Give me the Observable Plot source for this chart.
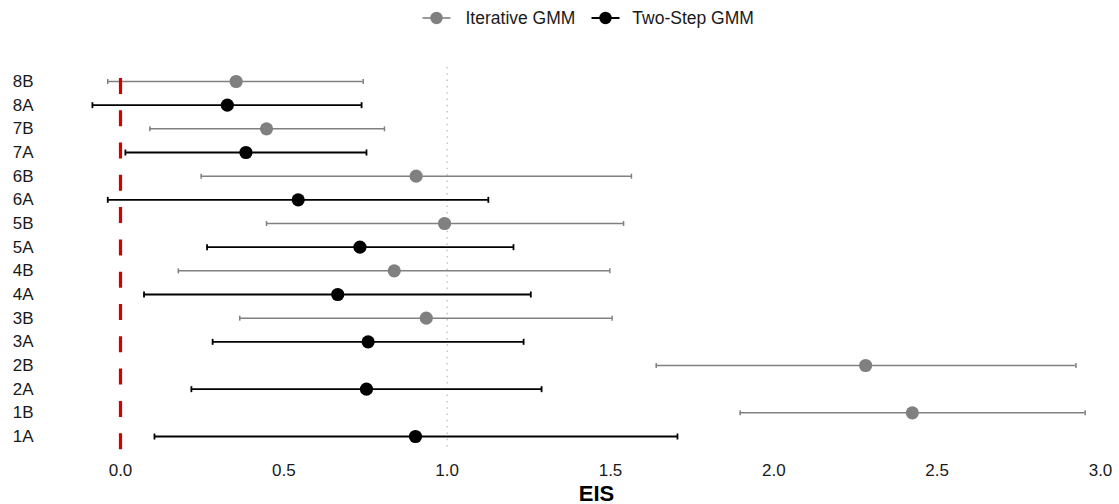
<!DOCTYPE html>
<html>
<head>
<meta charset="utf-8">
<script src="https://cdn.jsdelivr.net/npm/d3@7"></script>
<script src="https://cdn.jsdelivr.net/npm/@observablehq/plot@0.6"></script>
<style>
  html, body { margin: 0; padding: 0; background: #fff; }
  body { width: 1119px; height: 504px; overflow: hidden; font-family: "Liberation Sans", Arial, sans-serif; }
  #legend { position: relative; width: 1119px; height: 36px; }
  #legend .sw { position: absolute; top: 11px; }
  #legend .lab { position: absolute; top: 8px; font-size: 17.5px; color: #1a1a1a; line-height: 20px; white-space: nowrap; }
  #chart svg { display: block; }
</style>
</head>
<body>
<div id="legend"></div>
<div id="chart"></div>
<script>
// ---- data ----
const categories = ["1A","1B","2A","2B","3A","3B","4A","4B","5A","5B","6A","6B","7A","7B","8A","8B"];
const methods    = ["Two-Step GMM","Iterative GMM","Two-Step GMM","Iterative GMM","Two-Step GMM","Iterative GMM","Two-Step GMM","Iterative GMM",
                    "Two-Step GMM","Iterative GMM","Two-Step GMM","Iterative GMM","Two-Step GMM","Iterative GMM","Two-Step GMM","Iterative GMM"];
const estimates  = [0.903, 2.424, 0.753, 2.281, 0.758, 0.936, 0.665, 0.838, 0.733, 0.992, 0.544, 0.905, 0.384, 0.447, 0.327, 0.354];
const lower      = [0.104, 1.897, 0.217, 1.640, 0.282, 0.365, 0.072, 0.177, 0.265, 0.447, -0.039, 0.247, 0.015, 0.090, -0.086, -0.039];
const upper      = [1.705, 2.953, 1.289, 2.925, 1.234, 1.505, 1.256, 1.498, 1.203, 1.540, 1.126, 1.564, 0.753, 0.808, 0.738, 0.743];
const xTicks     = [0, 0.5, 1.0, 1.5, 2.0, 2.5, 3.0];
const legendItems = ["Iterative GMM", "Two-Step GMM"];
const colors = {"Iterative GMM": "#808080", "Two-Step GMM": "#000000"};

const rows = categories.map((c, i) => ({cat: c, method: methods[i], est: estimates[i], lo: lower[i], hi: upper[i]}));
const isTwo = d => d.method === "Two-Step GMM";
const isIter = d => d.method === "Iterative GMM";

// vertical-bar symbol for error-bar caps (half-length = r)
const capSymbol = {
  draw(context, size) {
    const h = Math.sqrt(size / Math.PI);
    context.moveTo(0, -h);
    context.lineTo(0, h);
  }
};

// ---- legend (HTML above the SVG) ----
const legend = document.getElementById("legend");
const legendPos = [{sw: 421, lab: 465.5}, {sw: 590, lab: 632.3}];
legendItems.forEach((name, i) => {
  const col = colors[name];
  legend.insertAdjacentHTML("beforeend",
    `<svg class="sw" width="31" height="14" style="left:${legendPos[i].sw}px">
       <line x1="1.5" x2="29.5" y1="7" y2="7" stroke="${col}" stroke-width="${i ? 2 : 1.6}"/>
       <circle cx="15.5" cy="7" r="6.2" fill="${col}"/>
     </svg>
     <div class="lab" style="left:${legendPos[i].lab}px">${name}</div>`);
});

// ---- chart ----
const chart = Plot.plot({
  width: 1119,
  height: 468,
  marginLeft: 75,
  marginRight: 2,
  marginTop: 31,
  marginBottom: 54,
  style: {fontFamily: "'Liberation Sans', Arial, sans-serif", fontSize: "17px", color: "#1a1a1a", background: "white", overflow: "visible"},
  x: {domain: [0, 3], range: [120, 1100], ticks: xTicks, tickFormat: d3.format(".1f"), tickSize: 0, tickPadding: 13, label: null},
  y: {type: "point", domain: categories.slice().reverse(), range: [45, 400], padding: 0, round: false, tickSize: 0, tickPadding: 42, label: null},
  marks: [
    Plot.ruleX([1], {stroke: "#b3b3b3", strokeWidth: 1.1, strokeDasharray: "1.5,4.8"}),
    // whiskers
    Plot.ruleY(rows, {filter: isIter, y: "cat", x1: "lo", x2: "hi", stroke: colors["Iterative GMM"], strokeWidth: 1.5}),
    Plot.ruleY(rows, {filter: isTwo, y: "cat", x1: "lo", x2: "hi", stroke: colors["Two-Step GMM"], strokeWidth: 1.8}),
    // caps
    Plot.dot(rows, {filter: isIter, x: "lo", y: "cat", r: 2.5, symbol: capSymbol, fill: "none", stroke: colors["Iterative GMM"], strokeWidth: 1.5}),
    Plot.dot(rows, {filter: isIter, x: "hi", y: "cat", r: 2.5, symbol: capSymbol, fill: "none", stroke: colors["Iterative GMM"], strokeWidth: 1.5}),
    Plot.dot(rows, {filter: isTwo, x: "lo", y: "cat", r: 3, symbol: capSymbol, fill: "none", stroke: colors["Two-Step GMM"], strokeWidth: 1.8}),
    Plot.dot(rows, {filter: isTwo, x: "hi", y: "cat", r: 3, symbol: capSymbol, fill: "none", stroke: colors["Two-Step GMM"], strokeWidth: 1.8}),
    // red reference line at 0
    Plot.ruleX([0], {stroke: "#d40000", strokeWidth: 3.2, strokeDasharray: "16,16.3", strokeDashoffset: 21.4}),
    // points
    Plot.dot(rows, {x: "est", y: "cat", r: 6.6, fill: d => colors[d.method], stroke: "none"}),
    // axis title
    Plot.text(["EIS"], {frameAnchor: "bottom", dx: 0, dy: 50, fontSize: 22, fontWeight: "bold", fill: "#000"})
  ]
});
document.getElementById("chart").appendChild(chart);
</script>
</body>
</html>
